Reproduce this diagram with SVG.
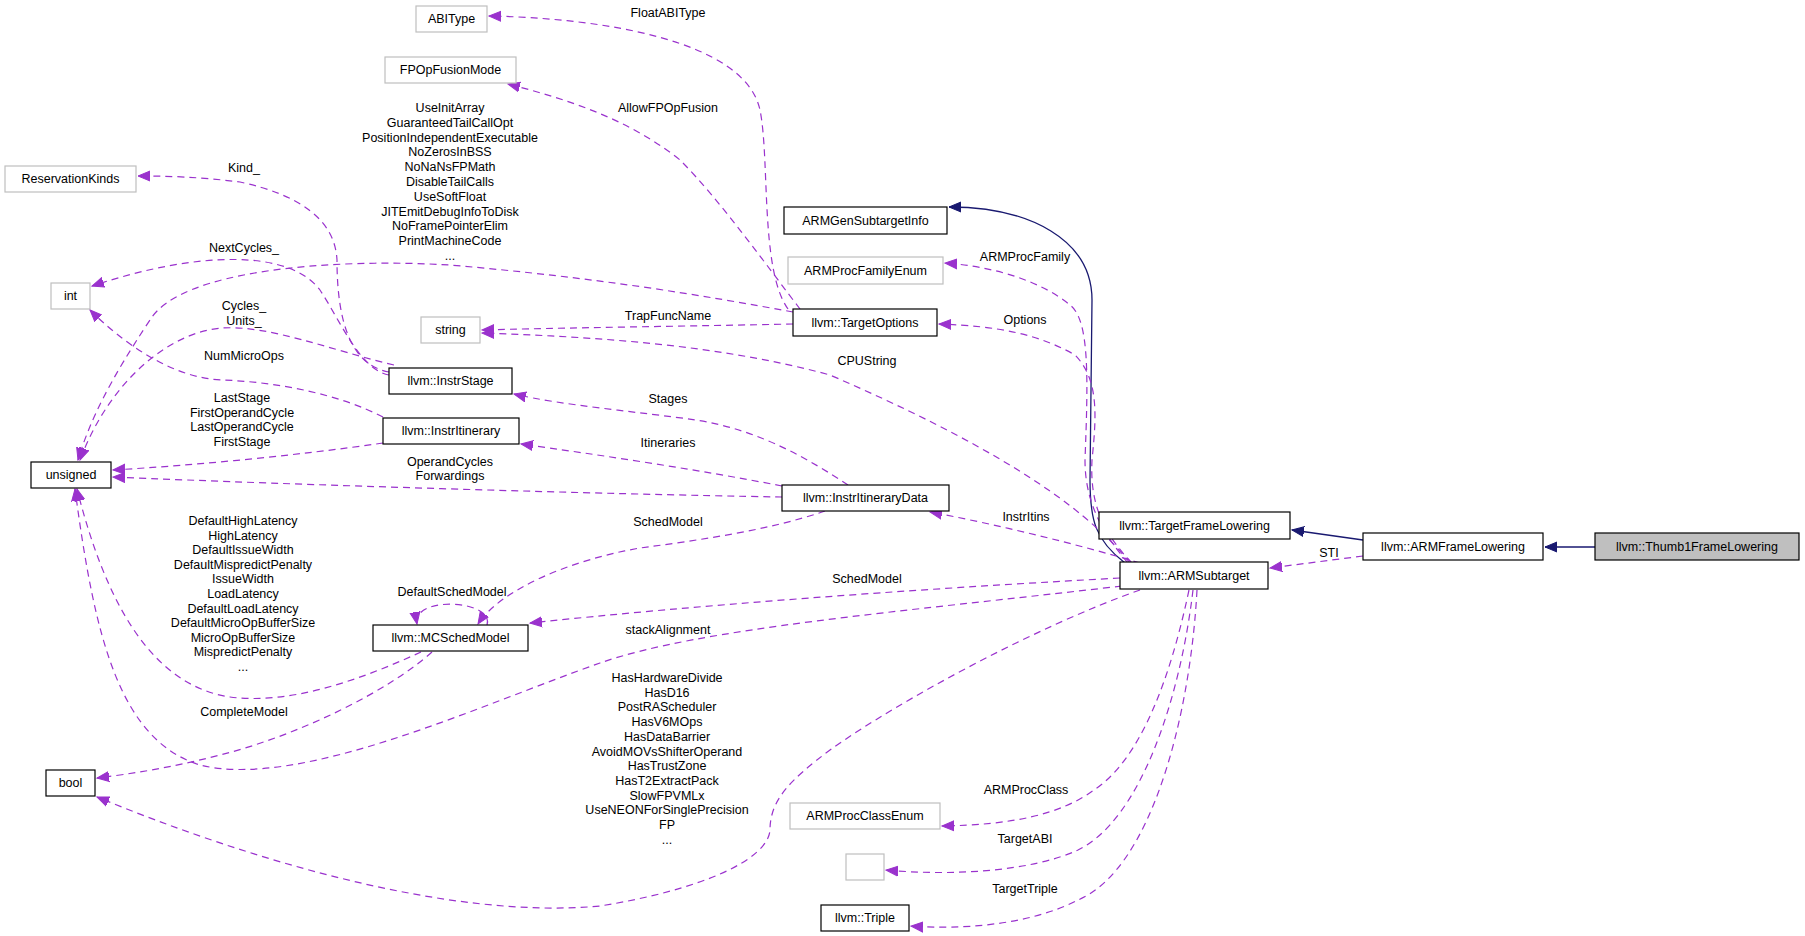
<svg xmlns="http://www.w3.org/2000/svg" width="1805" height="936" viewBox="0 0 1805 936">
<style>
text{font-family:"Liberation Sans",Arial,sans-serif;font-size:12.5px;fill:#000}
.n{text-anchor:middle}
.b{fill:#fff;stroke:#000;stroke-width:1.2}
.g{fill:#fff;stroke:#bfbfbf;stroke-width:1.2}
.d{fill:none;stroke:#9a32cd;stroke-width:1.2;stroke-dasharray:7,5;marker-end:url(#pa)}
.s{fill:none;stroke:#191970;stroke-width:1.3;marker-end:url(#na)}
</style>
<defs>
<marker id="pa" markerUnits="userSpaceOnUse" markerWidth="14" markerHeight="12" refX="12" refY="5" orient="auto" viewBox="0 0 14 10"><path d="M0,0 L12,5 L0,10 z" fill="#9a32cd" stroke="#9a32cd"/></marker>
<marker id="na" markerUnits="userSpaceOnUse" markerWidth="14" markerHeight="12" refX="12" refY="5" orient="auto" viewBox="0 0 14 10"><path d="M0,0 L12,5 L0,10 z" fill="#191970" stroke="#191970"/></marker>
</defs>
<rect width="1805" height="936" fill="#fff"/>
<g id="connectors">
<path class="s" d="M1595,547 L1545,547"/>
<path class="s" d="M1363,540 L1292,530"/>
<path class="s" d="M1125,563 C1095,540 1090,520 1090,480 L1092,300 C1092,240 1030,207 949,207"/>
<path class="d" d="M1363,556 L1270,568"/>
<path class="d" d="M788,309 C760,270 770,160 760,110 C745,40 600,18 489,16"/>
<path class="d" d="M800,309 C770,270 720,200 680,160 C630,120 570,100 508,84"/>
<path class="d" d="M793,312 C700,295 600,278 450,265 C330,258 180,270 150,320 C110,380 90,420 78,460"/>
<path class="d" d="M389,375 C360,370 340,320 320,290 C290,250 200,250 92,286"/>
<path class="d" d="M389,372 C350,365 337,320 337,260 C335,220 300,195 240,182 C200,177 170,176 138,176"/>
<path class="d" d="M394,365 C330,350 270,325 222,328 C170,332 110,380 80,460"/>
<path class="d" d="M383,417 C340,395 280,382 222,380 C170,378 120,340 90,310"/>
<path class="d" d="M848,485 C810,460 760,430 696,420 C640,412 560,405 514,394"/>
<path class="d" d="M782,486 C700,470 600,455 521,444"/>
<path class="d" d="M383,443 C300,455 200,465 113,470"/>
<path class="d" d="M782,497 C600,494 300,485 113,477"/>
<path class="d" d="M793,324 C700,326 550,328 482,330"/>
<path class="d" d="M1130,563 C1080,500 980,440 830,375 C720,345 600,337 482,333"/>
<path class="d" d="M1128,563 C1100,530 1085,500 1085,460 C1088,380 1090,320 1070,305 C1040,280 990,266 945,263"/>
<path class="d" d="M1132,563 C1100,530 1090,500 1092,460 C1096,420 1100,380 1075,355 C1040,335 1000,326 939,324"/>
<path class="d" d="M1140,563 C1080,545 1000,525 930,512"/>
<path class="d" d="M1120,578 C900,590 700,605 530,623"/>
<path class="d" d="M825,511 C770,530 700,540 640,548 C570,560 500,590 478,624"/>
<path class="d" d="M487,625 C495,600 412,595 417,624"/>
<path class="d" d="M1122,586 C900,612 700,628 600,663 C480,705 300,790 200,765 C120,740 95,640 75,489"/>
<path class="d" d="M421,652 C360,680 290,705 230,697 C150,685 105,600 77,489"/>
<path class="d" d="M432,652 C390,690 300,735 220,755 C170,768 130,774 97,778"/>
<path class="d" d="M1140,590 C1040,625 900,700 830,750 C790,780 770,800 770,830 C768,860 700,890 600,906 C450,920 250,860 97,797"/>
<path class="d" d="M1189,590 C1170,680 1140,760 1094,790 C1060,815 1010,825 942,826"/>
<path class="d" d="M1193,590 C1180,700 1140,820 1078,850 C1030,872 950,876 886,870"/>
<path class="d" d="M1197,590 C1190,720 1150,870 1078,900 C1030,925 960,930 911,926"/>
</g>
<g id="edge-labels">
<text class="n" x="668" y="17">FloatABIType</text>
<text class="n" x="668" y="112">AllowFPOpFusion</text>
<text class="n" x="244" y="172">Kind_</text>
<text class="n" x="450" y="112">UseInitArray<tspan x="450" dy="14.8">GuaranteedTailCallOpt</tspan><tspan x="450" dy="14.8">PositionIndependentExecutable</tspan><tspan x="450" dy="14.8">NoZerosInBSS</tspan><tspan x="450" dy="14.8">NoNaNsFPMath</tspan><tspan x="450" dy="14.8">DisableTailCalls</tspan><tspan x="450" dy="14.8">UseSoftFloat</tspan><tspan x="450" dy="14.8">JITEmitDebugInfoToDisk</tspan><tspan x="450" dy="14.8">NoFramePointerElim</tspan><tspan x="450" dy="14.8">PrintMachineCode</tspan><tspan x="450" dy="14.8">...</tspan></text>
<text class="n" x="244" y="252">NextCycles_</text>
<text class="n" x="244" y="310">Cycles_<tspan x="244" dy="14.5">Units_</tspan></text>
<text class="n" x="244" y="360">NumMicroOps</text>
<text class="n" x="242" y="402">LastStage<tspan x="242" dy="14.7">FirstOperandCycle</tspan><tspan x="242" dy="14.7">LastOperandCycle</tspan><tspan x="242" dy="14.7">FirstStage</tspan></text>
<text class="n" x="450" y="466">OperandCycles<tspan x="450" dy="14">Forwardings</tspan></text>
<text class="n" x="1025" y="261">ARMProcFamily</text>
<text class="n" x="668" y="320">TrapFuncName</text>
<text class="n" x="1025" y="324">Options</text>
<text class="n" x="867" y="365">CPUString</text>
<text class="n" x="668" y="403">Stages</text>
<text class="n" x="668" y="447">Itineraries</text>
<text class="n" x="1026" y="521">InstrItins</text>
<text class="n" x="668" y="526">SchedModel</text>
<text class="n" x="867" y="583">SchedModel</text>
<text class="n" x="1329" y="557">STI</text>
<text class="n" x="452" y="596">DefaultSchedModel</text>
<text class="n" x="243" y="525">DefaultHighLatency<tspan x="243" dy="14.6">HighLatency</tspan><tspan x="243" dy="14.6">DefaultIssueWidth</tspan><tspan x="243" dy="14.6">DefaultMispredictPenalty</tspan><tspan x="243" dy="14.6">IssueWidth</tspan><tspan x="243" dy="14.6">LoadLatency</tspan><tspan x="243" dy="14.6">DefaultLoadLatency</tspan><tspan x="243" dy="14.6">DefaultMicroOpBufferSize</tspan><tspan x="243" dy="14.6">MicroOpBufferSize</tspan><tspan x="243" dy="14.6">MispredictPenalty</tspan><tspan x="243" dy="14.6">...</tspan></text>
<text class="n" x="668" y="634">stackAlignment</text>
<text class="n" x="244" y="716">CompleteModel</text>
<text class="n" x="667" y="682">HasHardwareDivide<tspan x="667" dy="14.7">HasD16</tspan><tspan x="667" dy="14.7">PostRAScheduler</tspan><tspan x="667" dy="14.7">HasV6MOps</tspan><tspan x="667" dy="14.7">HasDataBarrier</tspan><tspan x="667" dy="14.7">AvoidMOVsShifterOperand</tspan><tspan x="667" dy="14.7">HasTrustZone</tspan><tspan x="667" dy="14.7">HasT2ExtractPack</tspan><tspan x="667" dy="14.7">SlowFPVMLx</tspan><tspan x="667" dy="14.7">UseNEONForSinglePrecision</tspan><tspan x="667" dy="14.7">FP</tspan><tspan x="667" dy="14.7">...</tspan></text>
<text class="n" x="1026" y="794">ARMProcClass</text>
<text class="n" x="1025" y="843">TargetABI</text>
<text class="n" x="1025" y="893">TargetTriple</text>
</g>
<g id="n-thumb1"><rect x="1595" y="533" width="204" height="27" fill="#bfbfbf" stroke="#000" stroke-width="1.2"/><text class="n" x="1697" y="551">llvm::Thumb1FrameLowering</text></g>
<g id="n-armfl"><rect class="b" x="1363" y="533" width="180" height="27"/><text class="n" x="1453" y="551">llvm::ARMFrameLowering</text></g>
<g id="n-tfl"><rect class="b" x="1099" y="512" width="191" height="27"/><text class="n" x="1194.5" y="530">llvm::TargetFrameLowering</text></g>
<g id="n-armst"><rect class="b" x="1120" y="562" width="148" height="27"/><text class="n" x="1194" y="580">llvm::ARMSubtarget</text></g>
<g id="n-armgen"><rect class="b" x="784" y="207" width="163" height="27"/><text class="n" x="865.5" y="225">ARMGenSubtargetInfo</text></g>
<g id="n-famenum"><rect class="g" x="788" y="257" width="155" height="27"/><text class="n" x="865.5" y="275">ARMProcFamilyEnum</text></g>
<g id="n-topts"><rect class="b" x="793" y="309" width="144" height="27"/><text class="n" x="865" y="327">llvm::TargetOptions</text></g>
<g id="n-abitype"><rect class="g" x="416" y="6" width="71" height="26"/><text class="n" x="451.5" y="23">ABIType</text></g>
<g id="n-fpop"><rect class="g" x="385" y="57" width="131" height="26"/><text class="n" x="450.5" y="74">FPOpFusionMode</text></g>
<g id="n-reskinds"><rect class="g" x="5" y="166" width="131" height="26"/><text class="n" x="70.5" y="183">ReservationKinds</text></g>
<g id="n-int"><rect class="g" x="51" y="283" width="39" height="26"/><text class="n" x="70.5" y="300">int</text></g>
<g id="n-string"><rect class="g" x="421" y="317" width="59" height="26"/><text class="n" x="450.5" y="334">string</text></g>
<g id="n-stage"><rect class="b" x="389" y="368" width="123" height="26"/><text class="n" x="450.5" y="385">llvm::InstrStage</text></g>
<g id="n-itin"><rect class="b" x="383" y="418" width="136" height="26"/><text class="n" x="451" y="435">llvm::InstrItinerary</text></g>
<g id="n-unsigned"><rect class="b" x="31" y="462" width="80" height="26"/><text class="n" x="71" y="479">unsigned</text></g>
<g id="n-iid"><rect class="b" x="782" y="485" width="167" height="26"/><text class="n" x="865.5" y="502">llvm::InstrItineraryData</text></g>
<g id="n-mcsm"><rect class="b" x="373" y="625" width="155" height="26"/><text class="n" x="450.5" y="642">llvm::MCSchedModel</text></g>
<g id="n-bool"><rect class="b" x="46" y="770" width="49" height="26"/><text class="n" x="70.5" y="787">bool</text></g>
<g id="n-classenum"><rect class="g" x="790" y="803" width="150" height="26"/><text class="n" x="865" y="820">ARMProcClassEnum</text></g>
<g id="n-empty"><rect class="g" x="846" y="854" width="38" height="26"/></g>
<g id="n-triple"><rect class="b" x="821" y="905" width="88" height="26"/><text class="n" x="865" y="922">llvm::Triple</text></g>
</svg>
